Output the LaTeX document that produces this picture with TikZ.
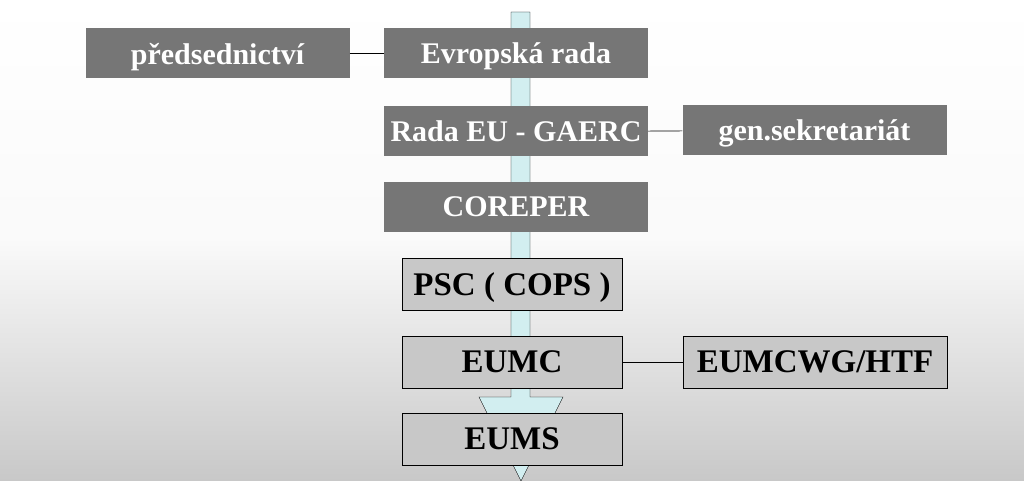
\documentclass[tikz,border=0pt]{standalone}
\usepackage{fontspec}
\setmainfont{Liberation Serif}
\usetikzlibrary{positioning}
\definecolor{darkbox}{RGB}{118,118,118}
\definecolor{lightbox}{RGB}{200,200,200}
\definecolor{shaft}{RGB}{210,238,240}
\begin{document}
\begin{tikzpicture}[x=1pt,y=-1pt,
        darkblock/.style={fill=darkbox, text=white, font=\bfseries\fontsize{30}{33}\selectfont, minimum width=264pt, minimum height=50pt, inner sep=0pt, text depth=0pt},
        lightblock/.style={draw, fill=lightbox, font=\bfseries\fontsize{33}{36}\selectfont, minimum width=220pt, minimum height=52pt, inner sep=0pt, text depth=0pt},
        link/.style={semithick}
    ]
    \useasboundingbox[top color=white, bottom color=lightbox, middle color=white!90!lightbox] (0,0) rectangle (1024,481);

    % sipka
    \draw[fill=shaft] (511,12) -- (530,12) -- (530,397) -- (563,397) -- (521,481) -- (479,397) -- (511,397) -- cycle;

    % bloky
    \node[darkblock] (pres) at (217.5,53.5) {předsednictví};
    \node[darkblock] (er) at (516,53.5) {Evropská rada};
    \node[darkblock] (gaerc) at (516,131.5) {Rada EU - GAERC};
    \node[darkblock] (gs) at (814.5,130.5) {gen.sekretariát};
    \node[darkblock] (corep) at (516,207) {COREPER};
    \node[lightblock] (psc) at (512,284) {PSC ( COPS )};
    \node[lightblock] (eumc) at (512,362) {EUMC};
    \node[lightblock, minimum width=264pt] (wg) at (815,362) {EUMCWG/HTF};
    \node[lightblock] (eums) at (512,439) {EUMS};

    % spojnice
    \draw[link] (pres) -- (er);
    \draw[link] (gaerc) -- (gs);
    \draw[link] (eumc) -- (wg);
\end{tikzpicture}
\end{document}
